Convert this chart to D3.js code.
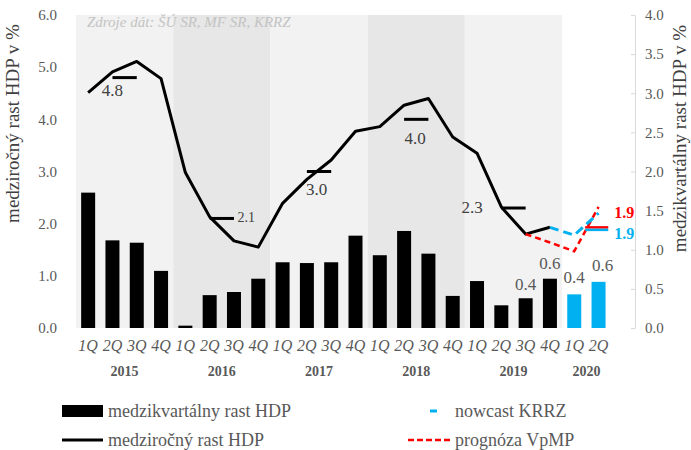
<!DOCTYPE html>
<html>
<head>
<meta charset="utf-8">
<script src="https://cdn.jsdelivr.net/npm/d3@7"></script>
<style>
  body { margin: 0; background: #fff; }
  svg text { font-family: "Liberation Serif", "DejaVu Serif", serif !important; }
</style>
</head>
<body>
<div id="container"></div>
<script>
// quarters from 2015 Q1 to 2020 Q2
const quarters = ["1Q","2Q","3Q","4Q","1Q","2Q","3Q","4Q","1Q","2Q","3Q","4Q",
                  "1Q","2Q","3Q","4Q","1Q","2Q","3Q","4Q","1Q","2Q"];
const years = ["2015", "2016", "2017", "2018", "2019", "2020"];

// medzikvartálny rast HDP (right axis), last two are nowcast
const qoq = [1.73, 1.12, 1.09, 0.73, 0.03, 0.42, 0.46, 0.63, 0.84, 0.83, 0.84, 1.18,
             0.93, 1.24, 0.95, 0.41, 0.60, 0.29, 0.38, 0.63, 0.43, 0.59];
const qoqNowcastFrom = 20;

// medziročný rast HDP (left axis)
const yoy = [4.51, 4.91, 5.11, 4.78, 2.98, 2.13, 1.67, 1.55, 2.39, 2.85, 3.22, 3.77,
             3.86, 4.27, 4.40, 3.66, 3.35, 2.32, 1.80, 1.93];

// nowcast KRRZ, starting at 2019 Q4
const nowcast = [1.93, 1.78, 2.20];
const nowcastStart = 19;

// prognóza VpMP, starting at 2019 Q3
const prognoza = [1.80, 1.64, 1.47, 2.32];
const prognozaStart = 18;

// annual growth
const annual = [4.8, 2.1, 3.0, 4.0, 2.3, 1.9];

// bar labels
const barLabelIdx = [18, 19, 20, 21];

const leftTicks = [0, 1, 2, 3, 4, 5, 6];
const rightTicks = [0, 0.5, 1, 1.5, 2, 2.5, 3, 3.5, 4];

const width = 691;
const height = 450;
const plotLeft = 76, plotRight = 635, plotTop = 15, plotBottom = 328;

const blue = "#00B0F0";
const red = "#FF0000";
const grey = "#595959";
const serif = "'Liberation Serif', 'DejaVu Serif', serif";

const svg = d3.select("#container")
    .append("svg")
    .attr("width", width)
    .attr("height", height)
    .style("font-family", serif);

// x as quarter index, 23 slots
const x = d3.scaleLinear().domain([-0.5, 22.5]).range([plotLeft, plotRight]);
const yL = d3.scaleLinear().domain([0, 6]).range([plotBottom, plotTop]);
const yR = d3.scaleLinear().domain([0, 4]).range([plotBottom, plotTop]);

// year bands
years.slice(0, 5).forEach((yr, i) => {
    svg.append("rect")
        .attr("x", x(i * 4 - 0.5))
        .attr("y", plotTop)
        .attr("width", x(i * 4 + 3.5) - x(i * 4 - 0.5))
        .attr("height", plotBottom - plotTop)
        .attr("fill", i % 2 === 0 ? "#f2f2f2" : "#e7e7e7");
});

// source note
svg.append("text")
    .attr("x", 87).attr("y", 27)
    .attr("font-size", 15)
    .attr("font-style", "italic")
    .attr("fill", "#c3c3c3")
    .text("Zdroje dát: ŠÚ SR, MF SR, KRRZ");

// left axis
const gl = svg.append("g")
    .attr("transform", `translate(${plotLeft - 16},0)`)
    .call(d3.axisLeft(yL).tickValues(leftTicks).tickFormat(d3.format(".1f")).tickSize(0));
gl.attr("font-family", null);
gl.select(".domain").remove();
gl.selectAll("text").attr("font-size", 15).attr("fill", grey).style("font-family", serif);

// right axis
const gr = svg.append("g")
    .attr("transform", `translate(${plotRight},0)`)
    .call(d3.axisRight(yR).tickValues(rightTicks).tickFormat(d3.format(".1f"))
        .tickSizeInner(-4).tickSizeOuter(0).tickPadding(10));
gr.attr("font-family", null);
gr.select(".domain").attr("stroke", "#d9d9d9");
gr.selectAll(".tick line").attr("stroke", "#d9d9d9");
gr.selectAll("text").attr("font-size", 15).attr("fill", grey).style("font-family", serif);

// axis titles
svg.append("text")
    .attr("transform", `translate(19,${(plotTop + 232) / 2}) rotate(-90)`)
    .attr("text-anchor", "middle")
    .attr("font-size", 19)
    .attr("fill", "#404040")
    .text("medziročný rast HDP v %");
svg.append("text")
    .attr("transform", `translate(686,${(plotTop + 262) / 2}) rotate(-90)`)
    .attr("text-anchor", "middle")
    .attr("font-size", 19)
    .attr("fill", "#404040")
    .text("medzikvartálny rast HDP v %");

// bars
const barW = 14;
qoq.forEach((v, i) => {
    svg.append("rect")
        .attr("x", x(i) - barW / 2)
        .attr("y", yR(v))
        .attr("width", barW)
        .attr("height", plotBottom - yR(v))
        .attr("fill", i >= qoqNowcastFrom ? blue : "#000");
});

// bar labels
const barLabelDy = { 18: -8, 19: -10, 20: -11, 21: -11 };
barLabelIdx.forEach(i => {
    svg.append("text")
        .attr("x", x(i) + (i === 21 ? 4 : 0))
        .attr("y", yR(qoq[i]) + barLabelDy[i])
        .attr("text-anchor", "middle")
        .attr("font-size", 17)
        .attr("fill", grey)
        .text(d3.format(".1f")(qoq[i]));
});

// yoy line
const line = d3.line().x(d => x(d[0])).y(d => yL(d[1]));
svg.append("path")
    .attr("d", line(yoy.map((v, i) => [i, v])))
    .attr("fill", "none")
    .attr("stroke", "#000")
    .attr("stroke-width", 3)
    .attr("stroke-linejoin", "round");

// prognoza
svg.append("path")
    .attr("d", line(prognoza.map((v, i) => [prognozaStart + i, v])))
    .attr("fill", "none")
    .attr("stroke", red)
    .attr("stroke-width", 2.5)
    .attr("stroke-dasharray", "6,4");

// nowcast
svg.append("path")
    .attr("d", line(nowcast.map((v, i) => [nowcastStart + i, v])))
    .attr("fill", "none")
    .attr("stroke", blue)
    .attr("stroke-width", 3)
    .attr("stroke-dasharray", "9,5");

// annual markers
annual.forEach((v, i) => {
    const x0 = i < 5 ? i * 4 + 1 : 20.45;
    const x1 = i < 5 ? i * 4 + 2 : 21.4;
    if (i < 5) {
        svg.append("line")
            .attr("x1", x(x0)).attr("x2", x(x1))
            .attr("y1", yL(v)).attr("y2", yL(v))
            .attr("stroke", "#000").attr("stroke-width", 3);
    } else {
        svg.append("line")
            .attr("x1", x(x0)).attr("x2", x(x1))
            .attr("y1", yL(v) - 1.5).attr("y2", yL(v) - 1.5)
            .attr("stroke", red).attr("stroke-width", 2.5);
        svg.append("line")
            .attr("x1", x(x0)).attr("x2", x(x1))
            .attr("y1", yL(v) + 1).attr("y2", yL(v) + 1)
            .attr("stroke", blue).attr("stroke-width", 2.5);
    }
});

// annual labels
const fmt = d3.format(".1f");
const annualLabel = [
    { dx: 1.0, dy: 18, anchor: "middle", size: 17 },
    { dx: 2.15, dy: 4, anchor: "start", size: 14 },
    { dx: 1.4, dy: 23, anchor: "middle", size: 17 },
    { dx: 1.45, dy: 25, anchor: "middle", size: 17 },
    { dx: -0.2, dy: 5, anchor: "middle", size: 17 }
];
annualLabel.forEach((p, i) => {
    svg.append("text")
        .attr("x", x(i * 4 + p.dx))
        .attr("y", yL(annual[i]) + p.dy)
        .attr("text-anchor", p.anchor)
        .attr("font-size", p.size)
        .attr("fill", "#404040")
        .text(fmt(annual[i]));
});
[[red, -11], [blue, 10]].forEach(([c, dy]) => {
    svg.append("text")
        .attr("x", x(21.65))
        .attr("y", yL(annual[5]) + dy)
        .attr("font-size", 16)
        .attr("font-weight", "bold")
        .attr("fill", c)
        .text(fmt(annual[5]));
});

// x labels
quarters.forEach((q, i) => {
    svg.append("text")
        .attr("x", x(i))
        .attr("y", 351)
        .attr("text-anchor", "middle")
        .attr("font-size", 16)
        .attr("font-style", "italic")
        .attr("fill", grey)
        .text(q);
});
years.forEach((yr, i) => {
    const mid = i < 5 ? i * 4 + 1.5 : 20.5;
    svg.append("text")
        .attr("x", x(mid))
        .attr("y", 376)
        .attr("text-anchor", "middle")
        .attr("font-size", 14)
        .attr("font-weight", "bold")
        .attr("fill", grey)
        .text(yr);
});

// legend
const lg = svg.append("g").attr("font-size", 18).attr("fill", grey);
lg.append("rect").attr("x", 62).attr("y", 405).attr("width", 41).attr("height", 12).attr("fill", "#000");
lg.append("text").attr("x", 108).attr("y", 417).text("medzikvartálny rast HDP");
lg.append("line").attr("x1", 62).attr("x2", 103).attr("y1", 440).attr("y2", 440)
    .attr("stroke", "#000").attr("stroke-width", 3);
lg.append("text").attr("x", 108).attr("y", 446).text("medziročný rast HDP");
lg.append("line").attr("x1", 430).attr("x2", 437).attr("y1", 411).attr("y2", 411)
    .attr("stroke", blue).attr("stroke-width", 3);
lg.append("text").attr("x", 455).attr("y", 417).text("nowcast KRRZ");
lg.append("line").attr("x1", 408).attr("x2", 452).attr("y1", 440).attr("y2", 440)
    .attr("stroke", red).attr("stroke-width", 2.5).attr("stroke-dasharray", "6,3");
lg.append("text").attr("x", 455).attr("y", 446).text("prognóza VpMP");
</script>
</body>
</html>
